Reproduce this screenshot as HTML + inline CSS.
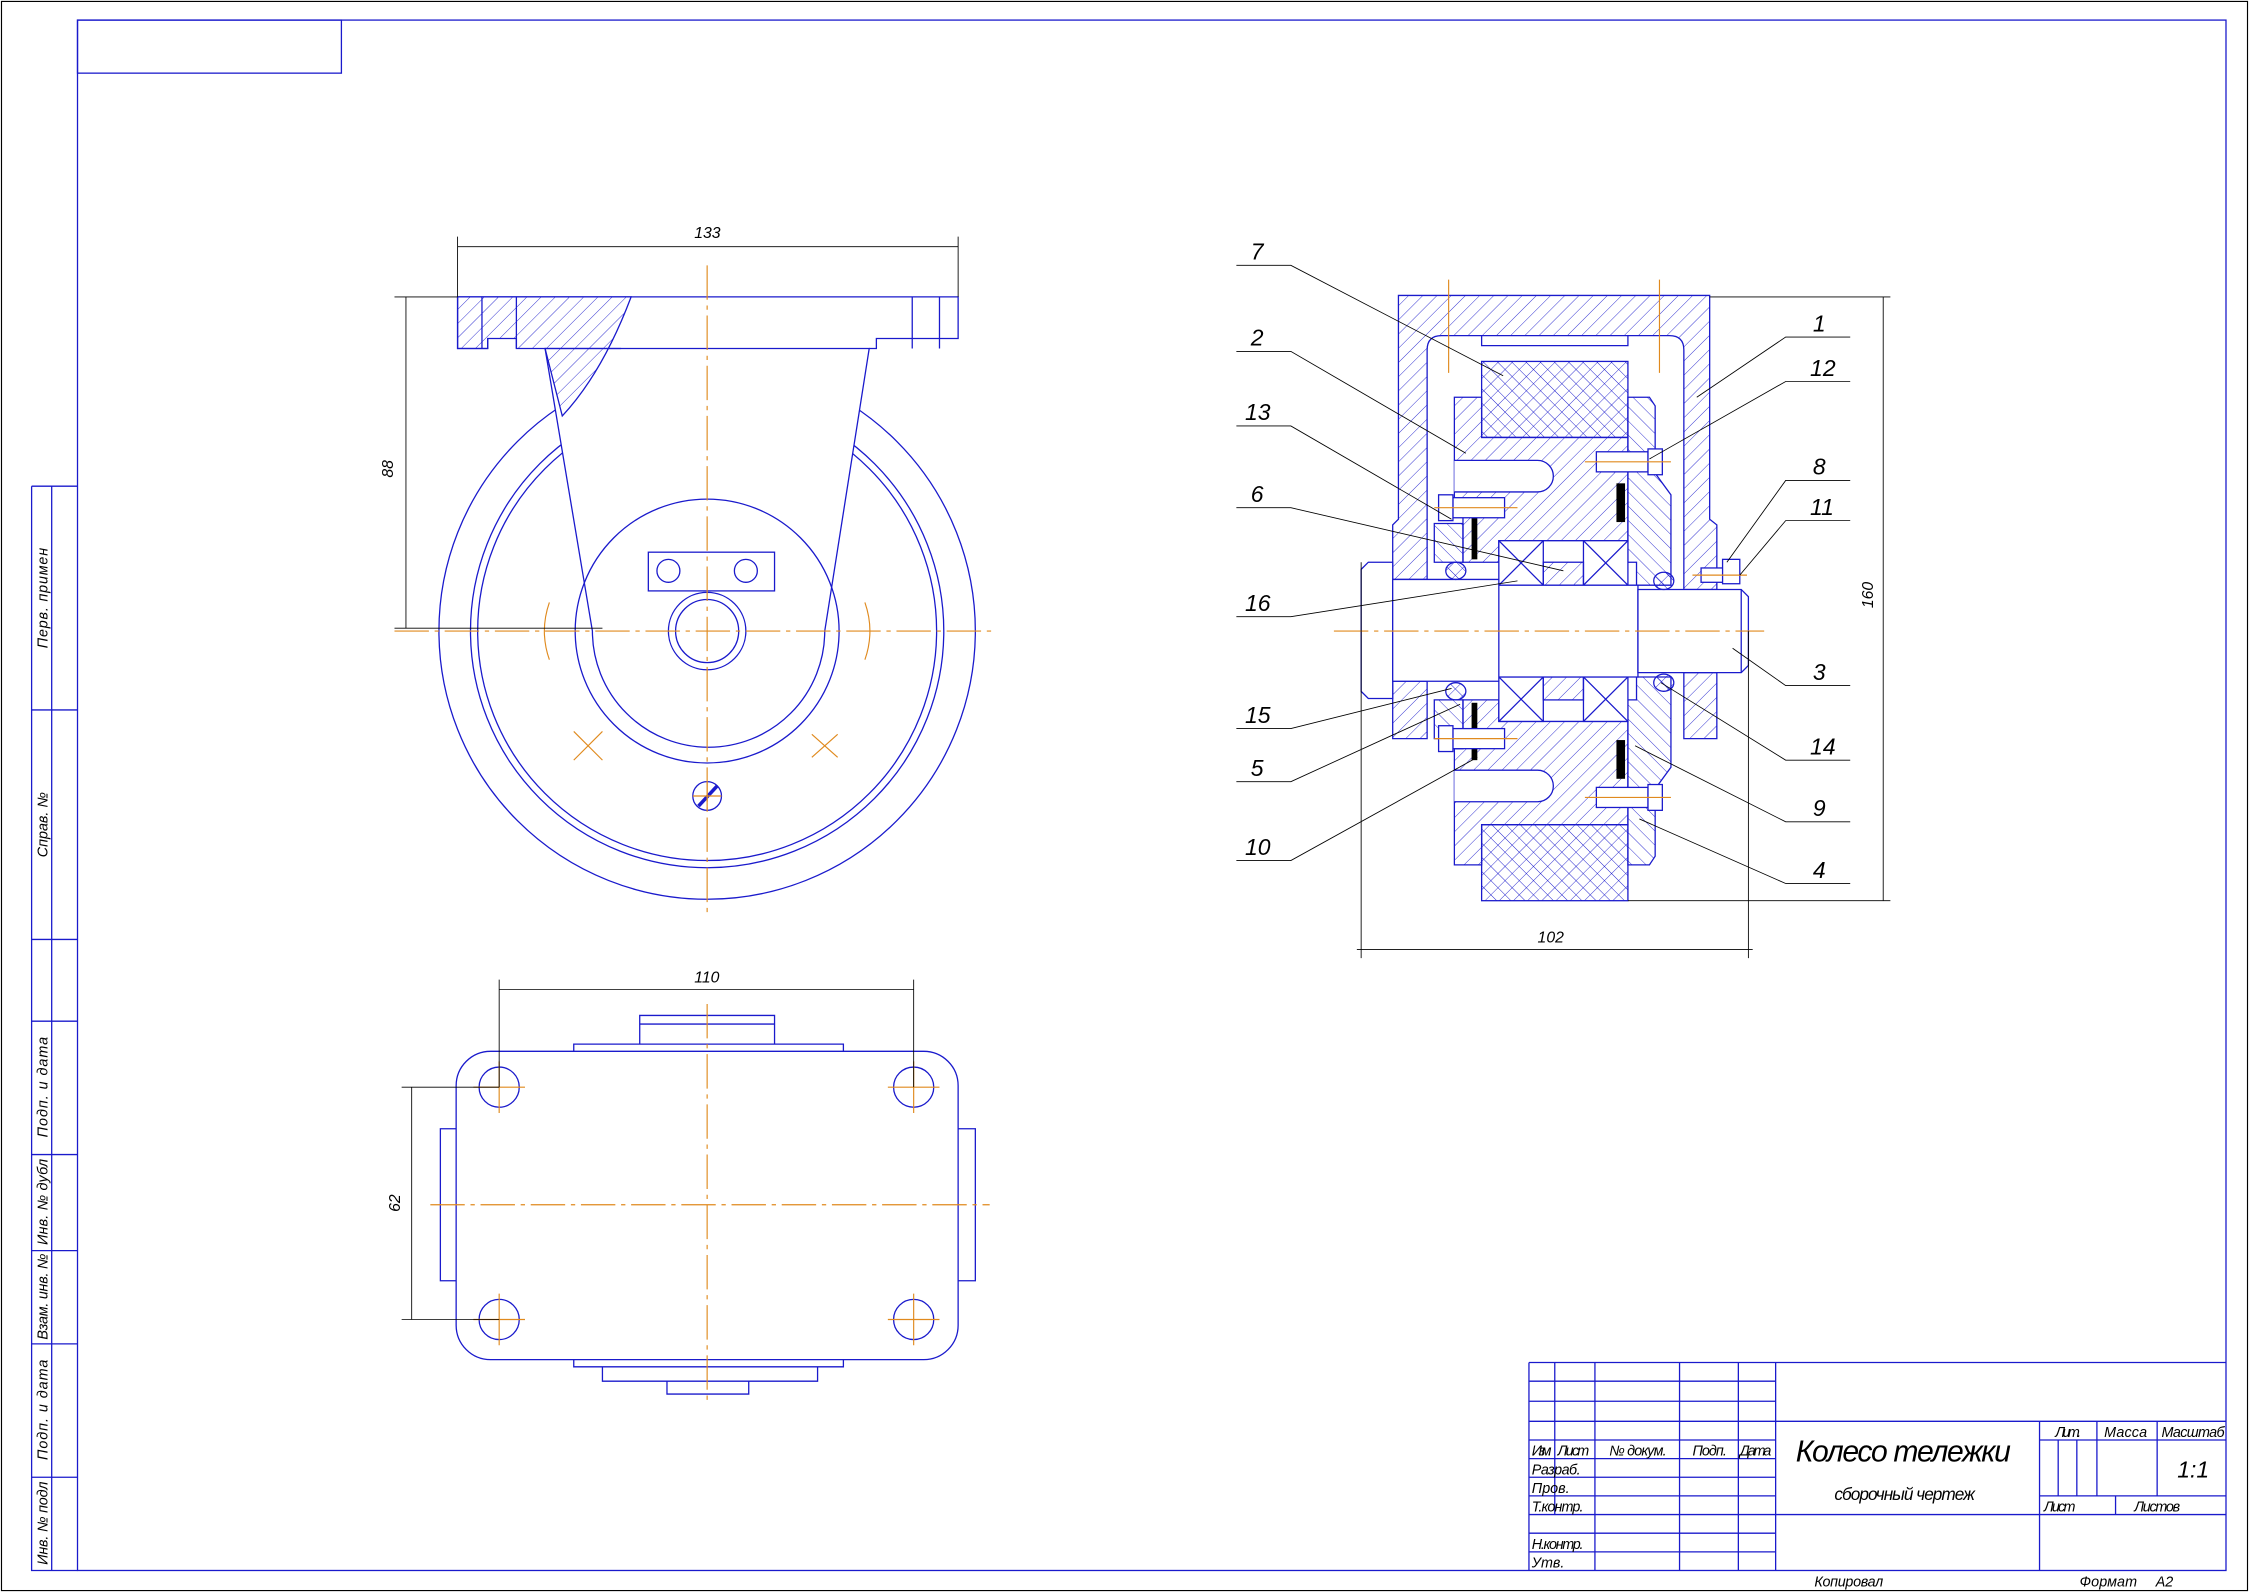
<!DOCTYPE html>
<html><head><meta charset="utf-8"><style>
html,body{margin:0;padding:0;background:#fff}
svg{display:block}
text{font-family:"Liberation Sans","DejaVu Sans",sans-serif;font-style:italic;fill:#000}
</style></head><body>
<svg width="2249" height="1592" viewBox="0 0 1568 1110" xmlns="http://www.w3.org/2000/svg">
<defs>
<pattern id="h" patternUnits="userSpaceOnUse" width="7" height="7" patternTransform="rotate(45)"><line x1="0" y1="0" x2="0" y2="7" stroke="#1a1acc" stroke-width="0.6"/></pattern>
<pattern id="h2" patternUnits="userSpaceOnUse" width="7" height="7" patternTransform="rotate(-45)"><line x1="0" y1="0" x2="0" y2="7" stroke="#1a1acc" stroke-width="0.6"/></pattern>
<pattern id="x" patternUnits="userSpaceOnUse" width="7" height="7" patternTransform="rotate(45)"><path d="M0 0V7M0 0H7" stroke="#1a1acc" stroke-width="0.6"/></pattern>
</defs>
<g fill="none" stroke="#1a1acc" stroke-width="0.9">
<rect x="1" y="1" width="1566" height="1108" stroke="#000" stroke-width="0.8"/>
<rect x="54" y="14" width="1498" height="1081"/>
<rect x="54" y="14" width="184" height="37"/>
<path d="M22 339H54M22 339V1095H54M36 339V1095M22 495H54M22 655H54M22 712H54M22 805H54M22 872H54M22 937H54M22 1030H54"/>
</g>
<g font-size="10">
<text transform="translate(33,417) rotate(-90)" text-anchor="middle" textLength="70">Перв. примен</text>
<text transform="translate(33,575) rotate(-90)" text-anchor="middle">Справ. №</text>
<text transform="translate(33,758) rotate(-90)" text-anchor="middle" textLength="70">Подп. и дата</text>
<text transform="translate(33,838) rotate(-90)" text-anchor="middle" textLength="60">Инв. № дубл</text>
<text transform="translate(33,904) rotate(-90)" text-anchor="middle" textLength="60">Взам. инв. №</text>
<text transform="translate(33,983) rotate(-90)" text-anchor="middle" textLength="70">Подп. и дата</text>
<text transform="translate(33,1062) rotate(-90)" text-anchor="middle" textLength="58">Инв. № подл</text>
</g>
<g fill="none" stroke="#1a1acc" stroke-width="0.9">
<path d="M1066 950H1552M1066 950V1095M1084 950V1056M1112 950V1095M1171 950V1095M1212 950V1095M1238 950V1095"/>
<path d="M1066 963H1238M1066 977H1238M1066 991H1552M1066 1004H1238M1066 1017H1238M1066 1030H1238M1066 1043H1238M1066 1056H1552M1066 1069H1238M1066 1082H1238"/>
<path d="M1422 991V1095M1422 1004H1552M1422 1043H1552M1462 991V1043M1504 991V1043M1435 1004V1043M1448 1004V1043M1475 1043V1056"/>
</g>
<g font-size="10">
<text x="1068" y="1015" textLength="14">Изм.</text><text x="1086" y="1015" textLength="22">Лист</text><text x="1122" y="1015" textLength="40">№ докум.</text><text x="1180" y="1015" textLength="24">Подп.</text><text x="1213" y="1015" textLength="22">Дата</text>
<text x="1068" y="1028" textLength="34">Разраб.</text><text x="1068" y="1041">Пров.</text><text x="1068" y="1054" textLength="36">Т.контр.</text>
<text x="1068" y="1080" textLength="36">Н.контр.</text><text x="1068" y="1093">Утв.</text>
<text x="1433" y="1002" textLength="18">Лит.</text><text x="1467" y="1002" textLength="30">Масса</text><text x="1507" y="1002" textLength="44">Масштаб</text>
<text x="1425" y="1054" textLength="22">Лист</text><text x="1488" y="1054" textLength="32">Листов</text>
<text x="1265" y="1106" textLength="48">Копировал</text><text x="1450" y="1106" textLength="40">Формат</text><text x="1503" y="1106">A2</text>
</g>
<text x="1252" y="1019" font-size="21" textLength="150">Колесо тележки</text>
<text x="1279" y="1046" font-size="12" textLength="98">сборочный чертеж</text>
<text x="1518" y="1030" font-size="16">1:1</text>

<g fill="none" stroke="#1a1acc" stroke-width="0.9">
<circle cx="493" cy="440" r="187"/>
<circle cx="493" cy="440" r="165"/>
<circle cx="493" cy="440" r="160"/>
<path d="M380 243 L413 440 A80 80 0 0 0 575 440 L606 243 Z" fill="#fff"/>
<path d="M319 207H668V236H611V243H606M319 207V243H340V236M380 243H433" />
<path d="M319 207H440Q420 260 392 290L380 243H360V236H340V243H319Z" fill="url(#h)"/>
<path d="M336 207V243M360 207V243M636 207V243M655 207V243"/>
<circle cx="493" cy="440" r="92"/>
<circle cx="493" cy="440" r="27"/>
<circle cx="493" cy="440" r="22"/>
<rect x="452" y="385" width="88" height="27"/>
<circle cx="466" cy="398" r="8"/><circle cx="520" cy="398" r="8"/>
<circle cx="493" cy="555" r="10"/>
<path d="M487 562L500 548" stroke-width="2.5"/>
<rect x="318" y="733" width="350" height="215" rx="24"/>
<path d="M400 733V728H588V733M446 728V708H540V728M446 714H540M400 948V953H588V948M420 953V963H570V953M465 963V972H522V963"/>
<path d="M318 787H307V893H318M668 787H680V893H668"/>
<circle cx="348" cy="758" r="14"/><circle cx="637" cy="758" r="14"/>
<circle cx="348" cy="920" r="14"/><circle cx="637" cy="920" r="14"/>
</g>
<g fill="none" stroke="#e08a1e" stroke-width="0.8" stroke-dasharray="24 4 3 4">
<path d="M275 440H695M493 185V638"/>
<path d="M300 840H690M493 700V980"/>
<path d="M330 758H366M619 758H655M330 920H366M619 920H655M348 740V776M637 740V776M348 902V938M637 902V938" stroke-dasharray="none"/>
<path d="M383 420Q376 440 383 460M603 420Q610 440 603 460M400 510L420 530M420 510L400 530M566 512L584 528M584 512L566 528M483 555H503M493 545V565" stroke-dasharray="none"/>
</g>
<g fill="none" stroke="#000" stroke-width="0.6">
<path d="M319 172H668M319 165V207M668 165V207M283 207V438M275 207H319M275 438H420"/>
<path d="M348 690H637M348 683V758M637 683V758M287 758V920M280 758H348M280 920H348"/>
</g>
<g font-size="11"><text x="484" y="166">133</text><text x="484" y="685">110</text>
<text transform="translate(274,333) rotate(-90)">88</text><text transform="translate(279,845) rotate(-90)">62</text></g>

<g stroke="#1a1acc" stroke-width="0.9">
<path d="M975 206H1192V362L1197 366V411H1174V244Q1174 234 1164 234H1005Q995 234 995 244V404H971V366L975 362Z" fill="url(#h)"/>
<path d="M1033 234V241H1135V234" fill="none"/>
<path d="M971 475H995V515H971ZM1174 469H1197V515H1174Z" fill="url(#h)"/>
<rect x="1033" y="252" width="102" height="53" fill="url(#x)"/>
<rect x="1033" y="575" width="102" height="53" fill="url(#x)"/>
<path d="M1014 277H1033V305H1135V377H1045V392H1020V358H1014Z" fill="url(#h)"/>
<path d="M1014 603H1033V575H1135V503H1045V488H1020V522H1014Z" fill="url(#h)"/>
<path d="M1014 321H1072A11 11 0 0 1 1072 343H1014" fill="#fff"/>
<path d="M1014 559H1072A11 11 0 0 0 1072 537H1014" fill="#fff"/>
<path d="M1135 277H1150L1154 283V330L1165 345V408H1141V392H1135Z" fill="url(#h2)"/>
<path d="M1135 603H1150L1154 597V550L1165 535V472H1141V488H1135Z" fill="url(#h2)"/>
<path d="M1000 365H1020V392H1000ZM1000 488H1020V515H1000Z" fill="url(#h2)"/>
<g fill="#fff">
<rect x="1045" y="377" width="31" height="31"/><rect x="1104" y="377" width="31" height="31"/>
<rect x="1045" y="472" width="31" height="31"/><rect x="1104" y="472" width="31" height="31"/>
</g>
<path d="M1045 377L1076 408M1076 377L1045 408M1104 377L1135 408M1135 377L1104 408M1045 472L1076 503M1076 472L1045 503M1104 472L1135 503M1135 472L1104 503" fill="none"/>
<rect x="1076" y="392" width="28" height="16" fill="url(#h)"/><rect x="1076" y="472" width="28" height="16" fill="url(#h)"/>
<path d="M949 397L954 392H971V487H954L949 482Z" fill="#fff"/>
<path d="M971 404H1045V475H971ZM1045 408H1142V472H1045Z" fill="#fff"/>
<path d="M1142 411H1214L1219 416V464L1214 469H1142Z" fill="#fff"/>
<path d="M1214 411V469" fill="none"/>
<ellipse cx="1015" cy="398" rx="7" ry="6" fill="url(#x)"/>
<ellipse cx="1015" cy="482" rx="7" ry="6" fill="url(#x)"/>
<ellipse cx="1160" cy="405" rx="7" ry="6" fill="url(#x)"/>
<ellipse cx="1160" cy="476" rx="7" ry="6" fill="url(#x)"/>
<g fill="#000" stroke="none">
<rect x="1127" y="337" width="6" height="27"/><rect x="1127" y="516" width="6" height="27"/>
<rect x="1026" y="350" width="4" height="40"/><rect x="1026" y="490" width="4" height="40"/>
</g>
<g fill="#fff">
<rect x="1013" y="347" width="36" height="14"/><rect x="1003" y="345" width="10" height="18"/>
<rect x="1013" y="508" width="36" height="14"/><rect x="1003" y="506" width="10" height="18"/>
<rect x="1113" y="315" width="36" height="14"/><rect x="1149" y="313" width="10" height="18"/>
<rect x="1113" y="549" width="36" height="14"/><rect x="1149" y="547" width="10" height="18"/>
<rect x="1186" y="396" width="22" height="10"/><rect x="1201" y="390" width="12" height="17"/>
</g>
</g>
<g fill="none" stroke="#e08a1e" stroke-width="0.8">
<path d="M930 440H1230" stroke-dasharray="24 4 3 4"/>
<path d="M1010 195V260M1157 195V260M1000 354H1058M1000 515H1058M1105 322H1165M1105 556H1165M1180 401H1218"/>
</g>
<g fill="none" stroke="#000" stroke-width="0.6">
<path d="M1192 207H1318M1135 628H1318M1313 207V628M949 392V668M1219 440V668M946 662H1222"/>
</g>
<g font-size="11"><text x="1072" y="657">102</text><text transform="translate(1306,424) rotate(-90)">160</text></g>
<g fill="none" stroke="#000" stroke-width="0.6">
<path d="M862 185H900L1048 262M862 245H900L1022 316M862 297H900L1012 362M862 354H900L1090 398M862 430H900L1058 405M862 508H900L1012 480M862 545H900L1018 491M862 600H900L1030 528"/>
<path d="M1290 235H1245L1183 277M1290 266H1245L1150 320M1290 335H1245L1204 392M1290 363H1245L1213 401M1290 478H1245L1208 452M1290 530H1245L1158 476M1290 573H1245L1140 520M1290 616H1245L1143 571"/>
</g>
<g font-size="16">
<text x="872" y="181">7</text><text x="872" y="241">2</text><text x="868" y="293">13</text><text x="872" y="350">6</text>
<text x="868" y="426">16</text><text x="868" y="504">15</text><text x="872" y="541">5</text><text x="868" y="596">10</text>
<text x="1264" y="231">1</text><text x="1262" y="262">12</text><text x="1264" y="331">8</text><text x="1262" y="359">11</text>
<text x="1264" y="474">3</text><text x="1262" y="526">14</text><text x="1264" y="569">9</text><text x="1264" y="612">4</text>
</g>
</svg>
</body></html>
